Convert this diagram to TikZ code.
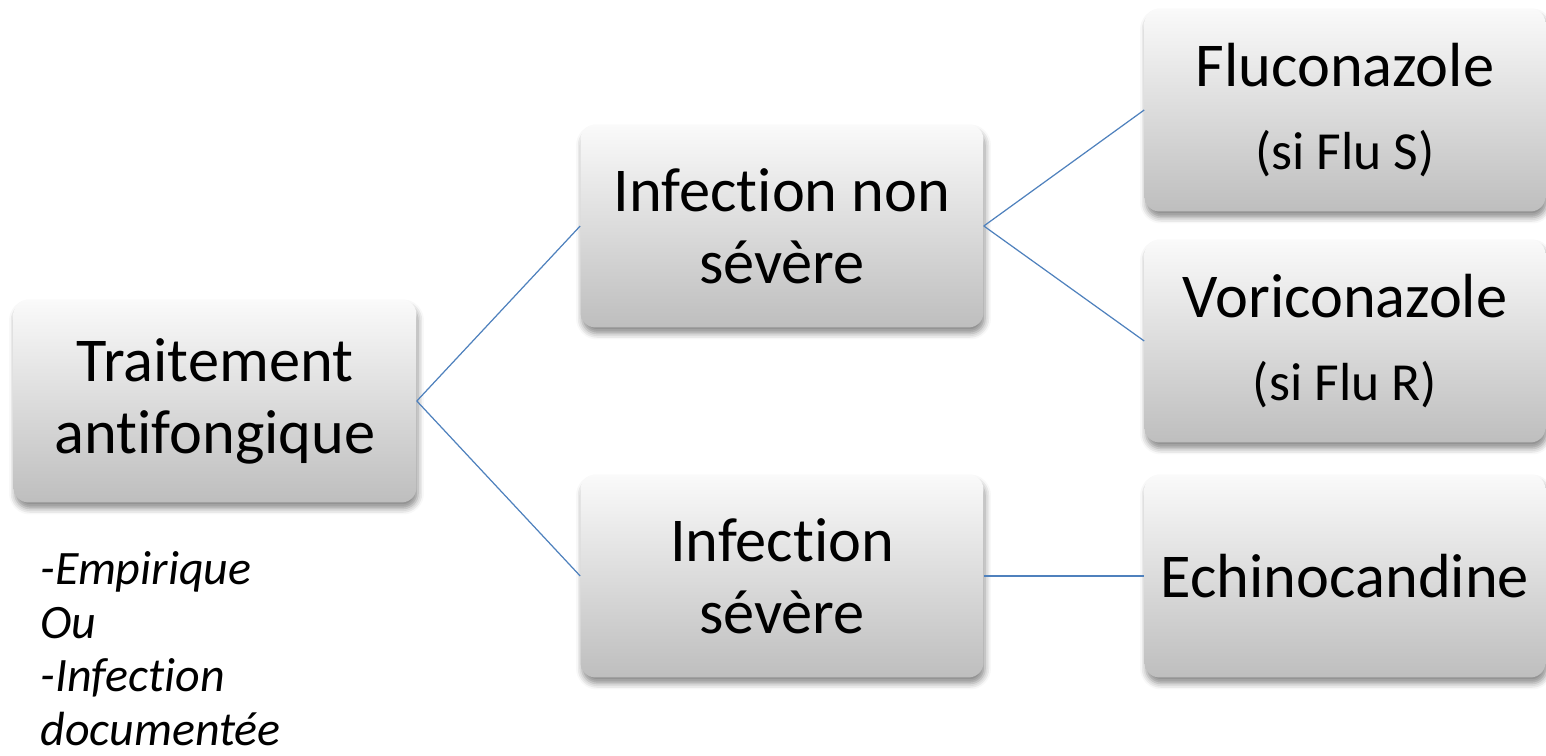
\documentclass[tikz,border=0pt]{standalone}
\usepackage{fontspec}
\setmainfont{Carlito}[RawFeature={-liga;-clig;-calt;-dlig}]
\usepackage{xcolor}
\usepackage{tikz}
\usetikzlibrary{shapes, shadows.blur}

\definecolor{linkblue}{RGB}{79,129,189}
\definecolor{boxtop}{RGB}{250,250,250}
\definecolor{boxbot}{RGB}{190,190,190}

\begin{document}
\begin{tikzpicture}[x=0.02cm, y=-0.02cm]
		\tikzstyle{every node} = [font = \fontsize{35.5}{41}\selectfont]
		\tikzstyle{box} = [rectangle, rounded corners=0.3cm, align=center,
			top color=boxtop, bottom color=boxbot, draw=none,
			minimum width=8.06cm, minimum height=4.06cm, inner sep=0pt,
			blur shadow={shadow xshift=0.03cm, shadow yshift=-0.12cm,
				shadow blur radius=0.12cm, shadow opacity=45}]
		\tikzstyle{link} = [draw=linkblue, line width=0.7pt]
		\useasboundingbox (0,0) rectangle (1546,756);
				% first column
				\node[box] (trait) at (215,401) {Traitement\\antifongique};
				\node[anchor=north west, align=left, inner sep=0pt,
					font=\fontsize{27.3}{30.6}\selectfont\itshape] (cond) at (40,551)
					{-Empirique\\Ou\\-Infection\\documentée};
				% second column
				\node[box] (nonsev) at (782,226) {Infection non\\sévère};
				\node[box] (sev) at (782,576) {Infection\\sévère};
				% third column
				\node[box, minimum width=8.02cm] (fluco) at (1345,110)
					{Fluconazole\\[6pt]{\fontsize{30.5}{36}\selectfont(si Flu S)}};
				\node[box, minimum width=8.02cm] (vori) at (1345,341)
					{Voriconazole\\[6pt]{\fontsize{30.5}{36}\selectfont(si Flu R)}};
				\node[box, minimum width=8.02cm] (echino) at (1345,576) {Echinocandine};
				% links
				\path[link] (trait.east)--(nonsev.west);
				\path[link] (trait.east)--(sev.west);
				\path[link] (nonsev.east)--(fluco.west);
				\path[link] (nonsev.east)--(vori.west);
				\path[link] (sev.east)--(echino.west);
	\end{tikzpicture}
\end{document}
